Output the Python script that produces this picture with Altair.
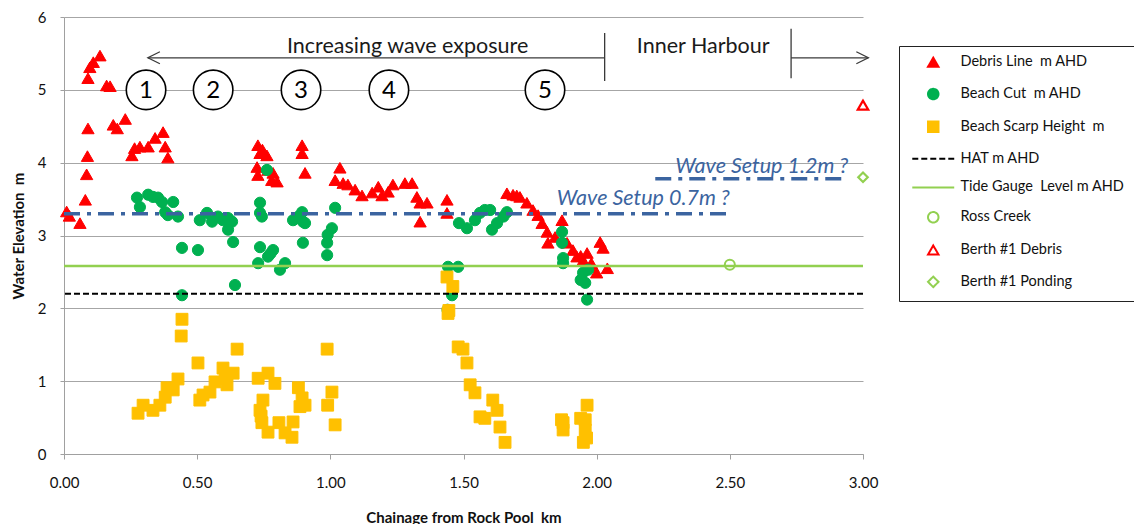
import altair as alt
import pandas as pd

SP = "\u00a0"  # keeps the double spacing used in the series names

# ---------------- series definitions (legend order) ----------------
SERIES = [
    f"Debris Line{SP}{SP}m AHD",
    f"Beach Cut{SP}{SP}m AHD",
    f"Beach Scarp Height{SP}{SP}m",
    "HAT m AHD",
    f"Tide Gauge{SP}{SP}Level m AHD",
    "Ross Creek",
    "Berth #1 Debris",
    "Berth #1 Ponding",
]
LINE_SYMBOL = "M-4,0L4,0"
FILLS = ["#ff0000", "#00b050", "#ffc000", "transparent", "transparent",
         "transparent", "transparent", "transparent"]
STROKES = ["#ff0000", "#00b050", "#ffc000", "#000000", "#92d050",
           "#92d050", "#ff0000", "#92d050"]
SHAPES = ["triangle-up", "circle", "square", LINE_SYMBOL, LINE_SYMBOL,
          "circle", "triangle-up", "diamond"]
DASHES = [[1, 0], [1, 0], [1, 0], [6, 3], [1, 0], [1, 0], [1, 0], [1, 0]]

# ---------------- survey data ----------------
debris_km = [0.01, 0.02, 0.06, 0.08, 0.085, 0.088, 0.09, 0.09, 0.097, 0.11, 0.135,
             0.16, 0.173, 0.185, 0.20, 0.23, 0.255, 0.265, 0.285, 0.316, 0.342,
             0.372, 0.38, 0.39,
             0.725, 0.728, 0.728, 0.736, 0.745, 0.762, 0.766, 0.785, 0.78, 0.80,
             0.894, 0.894, 0.905,
             1.018, 1.036, 1.048, 1.066, 1.093, 1.119, 1.157, 1.18, 1.194, 1.217,
             1.235, 1.28, 1.307, 1.325, 1.337, 1.363, 1.337, 1.438, 1.438,
             1.663, 1.686, 1.70, 1.712, 1.738, 1.761, 1.78, 1.795, 1.814, 1.817,
             1.844, 1.87, 1.889, 1.911, 1.926, 1.94, 1.949, 1.964, 1.975, 1.98,
             2.0, 2.013, 2.024, 2.04]
debris_m = [3.33, 3.27, 3.17, 3.49, 3.84, 4.09, 4.47, 5.16, 5.31, 5.38, 5.47,
            5.06, 5.05, 4.52, 4.47, 4.60, 4.10, 4.20, 4.22, 4.22, 4.34,
            4.42, 4.22, 4.07,
            3.94, 3.83, 4.24, 4.13, 4.18, 4.10, 3.90, 3.86, 3.76, 3.74,
            4.24, 4.13, 3.86,
            3.76, 3.93, 3.72, 3.70, 3.63, 3.55, 3.59, 3.67, 3.55, 3.60,
            3.70, 3.72, 3.72, 3.53, 3.45, 3.45, 3.19, 3.49, 3.31,
            3.58, 3.56, 3.55, 3.53, 3.45, 3.35, 3.28, 3.17, 3.05, 2.90,
            2.98, 3.21, 2.90, 2.80, 2.71, 2.72, 2.66, 2.76, 2.57, 2.62,
            2.49, 2.91, 2.83, 2.55]

cut_km = [0.274, 0.285, 0.316, 0.334, 0.353, 0.368, 0.38, 0.39, 0.41, 0.428,
          0.443, 0.443, 0.503, 0.51, 0.537, 0.556, 0.578, 0.597, 0.616, 0.631,
          0.616, 0.635, 0.642, 0.736, 0.736, 0.743, 0.762, 0.736, 0.729, 0.766,
          0.785, 0.775, 0.811, 0.83, 0.86, 0.88, 0.894, 0.897, 0.905, 0.897,
          0.988, 0.988, 0.99, 1.006, 1.018,
          1.442, 1.48, 1.457, 1.44,
          1.483, 1.513, 1.543, 1.562, 1.58, 1.60, 1.607, 1.626, 1.65, 1.663,
          1.87, 1.87, 1.874, 1.874, 1.949, 1.968, 1.94, 1.957, 1.964]
cut_m = [3.52, 3.39, 3.56, 3.53, 3.52, 3.46, 3.32, 3.28, 3.46, 3.26,
         2.83, 2.18, 2.80, 3.21, 3.31, 3.19, 3.26, 3.21, 3.24, 3.19,
         3.08, 2.91, 2.32, 3.45, 3.31, 3.26, 3.90, 2.84, 2.62, 2.71,
         2.80, 2.75, 2.53, 2.62, 3.21, 3.26, 3.32, 3.19, 3.17, 2.90,
         2.73, 2.90, 3.01, 3.10, 3.38,
         2.57, 2.57, 2.18, 1.98,
         3.17, 3.10, 3.21, 3.31, 3.35, 3.35, 3.08, 3.17, 3.26, 3.32,
         3.05, 2.90, 2.69, 2.62, 2.49, 2.53, 2.39, 2.35, 2.12]

scarp_km = [0.278, 0.297, 0.334, 0.36, 0.38, 0.387, 0.41, 0.428, 0.443, 0.44,
            0.503, 0.51, 0.522, 0.548, 0.567, 0.597, 0.612, 0.635, 0.605, 0.65,
            0.729, 0.766, 0.792, 0.747, 0.736, 0.74, 0.743, 0.766, 0.807, 0.83,
            0.856, 0.86, 0.88, 0.894, 0.905, 0.886, 0.988, 1.006, 0.99, 1.018,
            1.438, 1.46, 1.442, 1.445, 1.48, 1.498, 1.513, 1.525, 1.543, 1.61,
            1.626, 1.562, 1.58, 1.637, 1.656,
            1.874, 1.874, 1.868, 1.964, 1.957, 1.957, 1.95, 1.94, 1.962]
scarp_m = [0.56, 0.67, 0.60, 0.67, 0.78, 0.91, 0.88, 1.03, 1.85, 1.62,
           1.25, 0.74, 0.81, 0.85, 0.99, 1.18, 0.95, 1.11, 1.04, 1.44,
           1.04, 1.11, 0.97, 0.74, 0.60, 0.52, 0.43, 0.30, 0.43, 0.29,
           0.23, 0.44, 0.91, 0.77, 0.67, 0.65, 1.44, 0.85, 0.67, 0.40,
           2.43, 2.30, 1.93, 1.97, 1.47, 1.44, 1.25, 0.95, 0.84, 0.74,
           0.60, 0.51, 0.49, 0.37, 0.16,
           0.43, 0.33, 0.47, 0.67, 0.47, 0.33, 0.16, 0.49, 0.22]

HAT_LEVEL = 2.20
TIDE_LEVEL = 2.58
ross_km, ross_m = [2.50], [2.60]
berth_debris_km, berth_debris_m = [3.00], [4.79]
berth_pond_km, berth_pond_m = [3.00], [3.80]

# wave setup guides: (start km, end km, level)
setup_start = [0.0, 2.22]
setup_end = [2.50, 2.93]
setup_level = [3.30, 3.78]
setup_text = ["Wave Setup 0.7m ?", "Wave Setup 1.2m ?"]
setup_text_km = [2.175, 2.62]
setup_text_m = [3.50, 3.94]

# beach sections
section_label = ["1", "2", "3", "4", "5"]
section_km = [0.308, 0.56, 0.89, 1.22, 1.806]
section_m = [5.0, 5.0, 5.0, 5.0, 5.0]

# exposure / harbour banner
banner_text = ["Increasing wave exposure", "Inner Harbour"]
banner_km = [1.29, 2.40]
banner_m = [5.59, 5.59]
arrow_level = 5.44
span_start = [0.315, 2.73]
span_end = [2.03, 3.02]
divider_km = [2.03, 2.73]
divider_low = [5.12, 5.16]
divider_high = [5.78, 5.84]

# ---------------- scales, axes, legend ----------------
fill_scale = alt.Scale(domain=SERIES, range=FILLS)
stroke_scale = alt.Scale(domain=SERIES, range=STROKES)
shape_scale = alt.Scale(domain=SERIES, range=SHAPES)
dash_scale = alt.Scale(domain=SERIES, range=DASHES)

legend = alt.Legend(
    title=None, orient="none", legendX=835, legendY=29,
    padding=9, rowPadding=13.8, symbolOffset=18, labelOffset=20,
    symbolSize=110, symbolStrokeWidth=2, labelFont="Lato", labelFontSize=14.5,
    labelColor="#111111", labelLimit=400, strokeColor="#222222", fillColor="white",
)

x_axis = alt.Axis(
    values=[0, 0.5, 1.0, 1.5, 2.0, 2.5, 3.0], format=".2f", grid=False,
    labelFlush=False, tickSize=5, labelPadding=16, labelFontSize=15,
    labelColor="#111111",
    title=f"Chainage from Rock Pool{SP}{SP}km", titleFontSize=15, titleFontWeight="bold",
    titlePadding=20, titleColor="#111111", domainColor="#a0a0a0", tickColor="#a0a0a0",
)
y_axis = alt.Axis(
    values=[0, 1, 2, 3, 4, 5, 6], format="d", grid=True, gridColor="#a6a6a6",
    tickSize=4, labelPadding=14, labelFontSize=15, labelColor="#111111",
    title=f"Water Elevation{SP}{SP}m", titleFontSize=15, titleFontWeight="bold",
    titlePadding=11, titleColor="#111111", domainColor="#a0a0a0", tickColor="#a0a0a0",
)
x_enc = alt.X("km:Q", scale=alt.Scale(domain=[0, 3], nice=False, zero=False), axis=x_axis)
y_enc = alt.Y("m:Q", scale=alt.Scale(domain=[0, 6], nice=False), axis=y_axis)


def series_frame(xs, ys, name):
    return pd.DataFrame({"km": xs, "m": ys, "series": name})


def scatter(df, size, stroke_width):
    return alt.Chart(df).mark_point(
        filled=True, opacity=1, size=size, strokeWidth=stroke_width
    ).encode(
        x=x_enc, y=y_enc,
        fill=alt.Fill("series:N", scale=fill_scale, legend=legend),
        stroke=alt.Stroke("series:N", scale=stroke_scale, legend=legend),
        shape=alt.Shape("series:N", scale=shape_scale, legend=legend),
    )


def level_line(level, name, width):
    df = pd.DataFrame({"m": [level], "series": [name]})
    return alt.Chart(df).mark_rule(strokeWidth=width).encode(
        y=y_enc,
        stroke=alt.Stroke("series:N", scale=stroke_scale, legend=legend),
        strokeDash=alt.StrokeDash("series:N", scale=dash_scale, legend=legend),
    )


debris = scatter(series_frame(debris_km, debris_m, SERIES[0]), 150, 1)
cut = scatter(series_frame(cut_km, cut_m, SERIES[1]), 125, 1)
scarp = scatter(series_frame(scarp_km, scarp_m, SERIES[2]), 140, 1)
hat = level_line(HAT_LEVEL, SERIES[3], 2)
tide = level_line(TIDE_LEVEL, SERIES[4], 2.5)
ross = scatter(series_frame(ross_km, ross_m, SERIES[5]), 100, 2)
berth_debris = scatter(series_frame(berth_debris_km, berth_debris_m, SERIES[6]), 110, 2.2)
berth_pond = scatter(series_frame(berth_pond_km, berth_pond_m, SERIES[7]), 90, 2.2)

SETUP_BLUE = "#3b64a0"
setup_df = pd.DataFrame({"km": setup_start, "km2": setup_end, "m": setup_level})
setup_lines = alt.Chart(setup_df).mark_rule(
    stroke=SETUP_BLUE, strokeWidth=3.5, strokeDash=[16, 7, 4, 7]
).encode(x=x_enc, x2="km2:Q", y=y_enc)
setup_labels = alt.Chart(
    pd.DataFrame({"km": setup_text_km, "m": setup_text_m, "label": setup_text})
).mark_text(
    font="Lato", fontSize=21.5, fontStyle="italic", color=SETUP_BLUE, align="center",
    baseline="middle",
).encode(x=x_enc, y=y_enc, text="label:N")

# section markers: white circles with numbers
section_df = pd.DataFrame({"km": section_km, "m": section_m, "label": section_label})
section_rings = alt.Chart(section_df).mark_point(
    shape="circle", size=1560, filled=True, fill="white", stroke="#000000",
    strokeWidth=1.6, opacity=1,
).encode(x=x_enc, y=y_enc)
section_nums = alt.Chart(section_df).mark_text(
    font="Lato", fontSize=24, color="#000000", align="center", baseline="middle", dy=1,
).encode(x=x_enc, y=y_enc, text="label:N")

# banner with arrows and dividers
GUIDE = "#3a3a3a"
span_df = pd.DataFrame({"km": span_start, "km2": span_end, "m": [arrow_level, arrow_level]})
spans = alt.Chart(span_df).mark_rule(stroke=GUIDE, strokeWidth=1.3).encode(
    x=x_enc, x2="km2:Q", y=y_enc)
divider_df = pd.DataFrame({"km": divider_km, "m": divider_low, "m2": divider_high})
dividers = alt.Chart(divider_df).mark_rule(stroke=GUIDE, strokeWidth=1.3).encode(
    x=x_enc, y=y_enc, y2="m2:Q")
left_head = alt.Chart(pd.DataFrame({"km": [span_start[0]], "m": [arrow_level]})).mark_point(
    shape="M2,-1L0,0L2,1", size=144, filled=False, stroke=GUIDE, strokeWidth=1.3, opacity=1,
).encode(x=x_enc, y=y_enc)
right_head = alt.Chart(pd.DataFrame({"km": [span_end[1]], "m": [arrow_level]})).mark_point(
    shape="M-2,-1L0,0L-2,1", size=144, filled=False, stroke=GUIDE, strokeWidth=1.3, opacity=1,
).encode(x=x_enc, y=y_enc)
banner = alt.Chart(
    pd.DataFrame({"km": banner_km, "m": banner_m, "label": banner_text})
).mark_text(
    font="Lato", fontSize=21.5, color="#1a1a1a", align="center", baseline="middle",
).encode(x=x_enc, y=y_enc, text="label:N")

chart = alt.layer(
    debris, cut, scarp, hat, tide, ross, berth_debris, berth_pond,
    setup_lines, setup_labels, spans, dividers, left_head, right_head, banner,
    section_rings, section_nums,
).properties(
    width=799, height=437,
    autosize=alt.AutoSizeParams(type="none"),
    padding={"left": 64, "top": 17, "right": 271, "bottom": 70},
    background="white",
).configure(font="Lato").configure_view(stroke="transparent")

chart.save("out.html", embed_options={"renderer": "svg", "actions": False})
